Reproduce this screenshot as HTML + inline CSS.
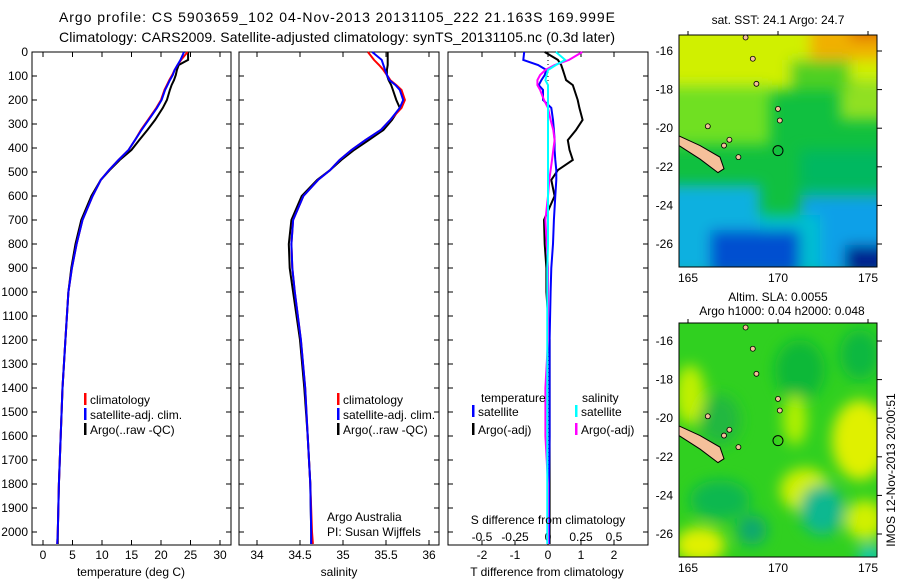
<!DOCTYPE html>
<html><head><meta charset="utf-8"><style>
body{margin:0;background:#fff;}
svg{display:block;font-family:"Liberation Sans",sans-serif;}
</style></head><body>
<svg id="fig" width="900" height="580" viewBox="0 0 900 580">
<defs>
<filter id="bl" x="-50%" y="-50%" width="200%" height="200%"><feGaussianBlur stdDeviation="7"/></filter>
<clipPath id="m1c"><rect x="679" y="35" width="198" height="232"/></clipPath>
<clipPath id="m2c"><rect x="679" y="323" width="198" height="234"/></clipPath>
</defs>
<g font-size="14" text-anchor="middle">
<text x="337" y="22" textLength="556">Argo profile: CS 5903659_102 04-Nov-2013 20131105_222 21.163S 169.999E</text>
<text x="337" y="42" textLength="556">Climatology: CARS2009. Satellite-adjusted climatology: synTS_20131105.nc (0.3d later)</text>
</g>
<g id="plots"></g>

<!-- Map 1 -->
<g clip-path="url(#m1c)">
<rect x="679" y="35" width="198" height="232" fill="#10c040"/>
<g filter="url(#bl)">
<rect x="660" y="20" width="240" height="70" fill="#d0f000"/>
<rect x="810" y="20" width="80" height="40" fill="#f0b000"/>
<rect x="850" y="20" width="40" height="20" fill="#e07000"/>
<rect x="660" y="85" width="110" height="60" fill="#70e020"/>
<rect x="840" y="80" width="50" height="40" fill="#90e020"/>
<rect x="790" y="60" width="60" height="30" fill="#50d020"/>
<rect x="660" y="185" width="100" height="90" fill="#10b0e0"/>
<rect x="800" y="195" width="100" height="80" fill="#10a0e8"/>
<rect x="760" y="215" width="60" height="60" fill="#00c0d0"/>
<rect x="710" y="230" width="90" height="45" fill="#0050d0"/>
<rect x="845" y="245" width="45" height="30" fill="#002090"/>
<rect x="800" y="150" width="90" height="40" fill="#00b860"/>
</g>
</g>
<rect x="679" y="35" width="198" height="232" fill="none" stroke="#000"/>
<!-- Map 2 -->
<g clip-path="url(#m2c)">
<rect x="679" y="323" width="198" height="234" fill="#30d020"/>
<g filter="url(#bl)">
<ellipse cx="690" cy="395" rx="15" ry="30" fill="#c0f000"/>
<ellipse cx="800" cy="370" rx="25" ry="30" fill="#10b838"/>
<ellipse cx="720" cy="420" rx="20" ry="25" fill="#20b840"/>
<ellipse cx="795" cy="420" rx="12" ry="25" fill="#b0f000"/>
<ellipse cx="860" cy="440" rx="28" ry="40" fill="#e0f000"/>
<ellipse cx="860" cy="355" rx="20" ry="25" fill="#10b840"/>
<ellipse cx="805" cy="490" rx="25" ry="22" fill="#d0f000"/>
<ellipse cx="822" cy="510" rx="22" ry="25" fill="#10b890"/>
<ellipse cx="720" cy="500" rx="30" ry="20" fill="#10b850"/>
<ellipse cx="752" cy="530" rx="15" ry="15" fill="#10a870"/>
<ellipse cx="700" cy="545" rx="25" ry="18" fill="#e0f000"/>
<ellipse cx="865" cy="520" rx="20" ry="20" fill="#d0f000"/>
<ellipse cx="870" cy="555" rx="12" ry="10" fill="#10c8b8"/>
</g>
</g>
<rect x="679" y="323" width="198" height="234" fill="none" stroke="#000"/>
<g id="maps"></g>
<text x="0" y="0" font-size="12" text-anchor="middle" transform="translate(895,470) rotate(-90)">IMOS 12-Nov-2013 20:00:51</text>
<g font-size="12" text-anchor="middle">
<text x="778" y="24">sat. SST: 24.1  Argo: 24.7</text>
<text x="778" y="301">Altim. SLA: 0.0055</text>
<text x="782" y="315">Argo h1000: 0.04 h2000: 0.048</text>
</g>
</svg>
<script>
// depth (m) levels
const depths=[0,33,54,75,96,117,138,158,200,233,283,325,367,408,450,492,533,600,700,800,900,1000,1200,1400,1600,1800,2000,2050];
const tempClim=[24.5,23.4,22.8,22.3,21.9,21.4,21.0,20.6,20.0,19.2,17.8,16.6,15.6,14.5,12.8,11.2,9.8,8.4,6.7,5.7,4.9,4.3,3.8,3.3,3.0,2.7,2.5,2.4];
const tempSat=[23.9,23.3,22.8,22.3,22.0,21.5,21.1,20.7,20.1,19.3,17.9,16.7,15.6,14.5,12.8,11.2,9.8,8.4,6.7,5.7,4.9,4.3,3.8,3.3,3.0,2.7,2.5,2.4];
const tempArgo=[24.6,24.6,23.0,22.7,22.5,22.2,21.8,21.5,21.0,20.3,19.0,17.7,16.3,15.0,13.0,11.3,9.8,8.2,6.5,5.5,4.8,4.3,3.8,3.3,3.0,2.7,2.5,2.5];
const salClim=[35.29,35.36,35.42,35.47,35.51,35.55,35.62,35.68,35.72,35.68,35.55,35.44,35.26,35.10,34.96,34.85,34.71,34.54,34.42,34.40,34.41,34.44,34.51,34.56,34.59,34.62,34.64,34.65];
const salSat=[35.34,35.45,35.47,35.49,35.51,35.54,35.61,35.66,35.70,35.66,35.55,35.44,35.26,35.10,34.96,34.85,34.71,34.54,34.42,34.40,34.41,34.44,34.51,34.56,34.59,34.62,34.63,34.63];
const salArgo=[35.52,35.52,35.52,35.51,35.51,35.53,35.56,35.58,35.62,35.66,35.57,35.47,35.30,35.13,34.98,34.85,34.70,34.52,34.40,34.37,34.38,34.42,34.50,34.55,34.59,34.62,34.63,34.63];
const dTsat=[-0.72,-0.75,-0.3,-0.05,-0.1,-0.2,-0.28,-0.15,-0.15,0.1,0.15,0.18,0.2,0.2,0.22,0.25,0.25,0.22,0.18,0.15,0.1,0.08,0.05,0.05,0.05,0.03,0.03,0.03];
const dTargo=[-0.1,0.3,0.4,0.45,0.5,0.55,0.75,0.8,0.9,0.95,1.05,0.85,0.6,0.65,0.75,0.3,0.1,0.2,-0.12,-0.1,-0.05,-0.05,0.05,0.05,0.05,0.05,0.05,0.05];
const dSsat=[0.06,0.13,0.06,0.0,-0.01,-0.02,0.0,0.0,0.0,0.0,0.0,0.0,0.0,0.0,0.0,0.0,0.0,0.0,0.0,0.0,-0.005,-0.005,-0.005,-0.005,-0.005,-0.005,-0.005,-0.005];
const dSargo=[0.26,0.16,0.05,-0.02,-0.06,-0.08,-0.08,-0.06,-0.03,0.0,0.02,0.04,0.05,0.04,0.03,0.02,0.01,0.0,-0.02,-0.01,0.0,0.0,0.0,-0.02,-0.02,0.0,0.0,0.0];
const depthTicks=[0,100,200,300,400,500,600,700,800,900,1000,1100,1200,1300,1400,1500,1600,1700,1800,1900,2000];
const tempTicks=[0,5,10,15,20,25,30];
const salTicks=[34,34.5,35,35.5,36];
const dTTicks=[-2,-1,0,1,2];
const dSTickLabels=["-0.5","-0.25","0","0.25","0.5"];
const dSTicks=[-0.5,-0.25,0,0.25,0.5];
const latTicks=[-16,-18,-20,-22,-24,-26];
const lonTicks=[165,170,175];

const NS='http://www.w3.org/2000/svg';
const svg=document.getElementById('fig');
const G=document.getElementById('plots');
function el(tag,attrs,parent){const e=document.createElementNS(NS,tag);for(const k in attrs)e.setAttribute(k,attrs[k]);(parent||G).appendChild(e);return e;}
const yD=d=>52+d*0.24;
const TOP=52,BOT=545;
const xT=t=>43+t*5.9;
const xS=s=>257+(s-34)*86;
const xDT=t=>548+t*33;
const xDS=s=>548+s*132;

function frame(x0,x1,name){
  const r=el('rect',{x:x0,y:TOP,width:x1-x0,height:BOT-TOP,fill:'none',stroke:'#000'});
  
  
  depthTicks.forEach(d=>{
    const y=yD(d);
    const t1=el('line',{x1:x0,x2:x0+5,y1:y,y2:y,stroke:'#000'});
    
    
    const t2=el('line',{x1:x1-5,x2:x1,y1:y,y2:y,stroke:'#000'});
    
    
  });
}
function xticks(vals,fx,labels,y){
  vals.forEach((v,i)=>{
    const x=fx(v);
    const a=el('line',{x1:x,x2:x,y1:TOP,y2:TOP+5,stroke:'#000'});
    
    
    const b=el('line',{x1:x,x2:x,y1:BOT-5,y2:BOT,stroke:'#000'});
    
    
    const t=el('text',{x:x,y:y,'font-size':12,'text-anchor':'middle'});
    t.textContent=labels?labels[i]:String(v);
    
    
  });
}
function line(vals,fx,color,name){
  const pts=vals.map((v,i)=>fx(v).toFixed(1)+','+yD(depths[i]).toFixed(1)).join(' ');
  const p=el('polyline',{points:pts,fill:'none',stroke:color,'stroke-width':2});
  
  
}
function txt(x,y,s,name,anchor){
  const t=el('text',{x:x,y:y,'font-size':12,'text-anchor':anchor||'start'});
  t.textContent=s;
  
  
}
function leg(x,y,color,s,name){
  const r=el('rect',{x:x,y:y-11,width:2.5,height:12,fill:color});
  
  
  txt(x+6,y,s,name);
}

// depth labels
depthTicks.forEach(d=>{
  const t=el('text',{x:28,y:yD(d)+4,'font-size':12,'text-anchor':'end'});
  t.textContent=String(d);
  
  
});

// Panel 1
frame(32,231,'temperature-panel');
xticks(tempTicks,xT,null,559);
line(tempArgo,xT,'#000','temp-argo-line');
line(tempClim,xT,'#f00','temp-climatology-line');
line(tempSat,xT,'#00f','temp-satellite-line');
txt(131,576,'temperature (deg C)','temperature-axis-title','middle');
leg(84,404,'#f00','climatology','legend-climatology');
leg(84,419,'#00f','satellite-adj. clim.','legend-satellite');
leg(84,434,'#000','Argo(..raw -QC)','legend-argo');

// Panel 2
frame(239,439,'salinity-panel');
xticks(salTicks,xS,null,559);
line(salArgo,xS,'#000','sal-argo-line');
line(salClim,xS,'#f00','sal-climatology-line');
line(salSat,xS,'#00f','sal-satellite-line');
txt(339,576,'salinity','salinity-axis-title','middle');
leg(337,404,'#f00','climatology','legend-climatology-2');
leg(337,419,'#00f','satellite-adj. clim.','legend-satellite-2');
leg(337,434,'#000','Argo(..raw -QC)','legend-argo-2');
txt(327,521,'Argo Australia','credit-line-1');
txt(327,536,'PI: Susan Wijffels','credit-line-2');

// Panel 3
frame(448,648,'difference-panel');
xticks(dTTicks,xDT,null,559);
dSTicks.forEach((v,i)=>{
  const t=el('text',{x:xDS(v),y:541,'font-size':12,'text-anchor':'middle'});
  t.textContent=dSTickLabels[i];
  
  
});
const z=el('line',{x1:548,x2:548,y1:TOP,y2:BOT,stroke:'#000','stroke-dasharray':'1,3'});


line(dTargo,xDT,'#000','tdiff-argo-line');
line(dTsat,xDT,'#00f','tdiff-satellite-line');
line(dSargo,xDS,'#f0f','sdiff-argo-line');
line(dSsat,xDS,'#0ff','sdiff-satellite-line');
txt(547,576,'T difference from climatology','tdiff-axis-title','middle');
txt(548,524,'S difference from climatology','sdiff-axis-title','middle');
txt(481,402,'temperature','legend-temperature-header');
txt(582,402,'salinity','legend-salinity-header');
leg(472,416,'#00f','satellite','legend-t-satellite');
leg(472,434,'#000','Argo(-adj)','legend-t-argo');
leg(575,416,'#0ff','satellite','legend-s-satellite');
leg(575,434,'#f0f','Argo(-adj)','legend-s-argo');

// maps ticks/labels
const M=document.getElementById('maps');
function mapAxes(top,bot,lat16,lat26,name){
  const yL=l=>lat16+(l+16)*(lat26-lat16)/(-10);
  const xL=l=>688+(l-165)*18;
  latTicks.forEach(l=>{
    const y=yL(l);
    const t=el('text',{x:673,y:y+4,'font-size':12,'text-anchor':'end'},M);
    t.textContent=String(l);
    
    
    const k=el('line',{x1:877,x2:882,y1:y,y2:y,stroke:'#000'},M);
    
    
  });
  lonTicks.forEach(l=>{
    const x=xL(l);
    const t=el('text',{x:x,y:bot+15,'font-size':12,'text-anchor':'middle'},M);
    t.textContent=String(l);
    
    
    const k=el('line',{x1:x,x2:x,y1:top-4,y2:top,stroke:'#000'},M);
    
    
  });
  // New Caledonia + islands
  const nc=el('polygon',{points:`679,${yL(-20.4)} 700,${yL(-20.9)} 720,${yL(-21.5)} 724,${yL(-22.1)} 718,${yL(-22.3)} 700,${yL(-21.6)} 679,${yL(-20.9)}`,fill:'#f5c09a',stroke:'#000'},M);
  
  
  [[168.2,-15.3],[168.6,-16.4],[168.8,-17.7],[170.0,-19.0],[170.1,-19.6],[167.0,-20.9],[167.8,-21.5],[167.3,-20.6],[166.1,-19.9]].forEach(p=>{
    const e=el('ellipse',{cx:xL(p[0]),cy:yL(p[1]),rx:2.5,ry:2.5,fill:'#f5c09a',stroke:'#000','stroke-width':0.8},M);
    
    
  });
  const c=el('circle',{cx:xL(169.999),cy:yL(-21.163),r:5,fill:'none',stroke:'#000'},M);
  
  
}
mapAxes(35,267,51,244,'sst-map');
mapAxes(323,557,341,534,'sla-map');
</script>
</body></html>
